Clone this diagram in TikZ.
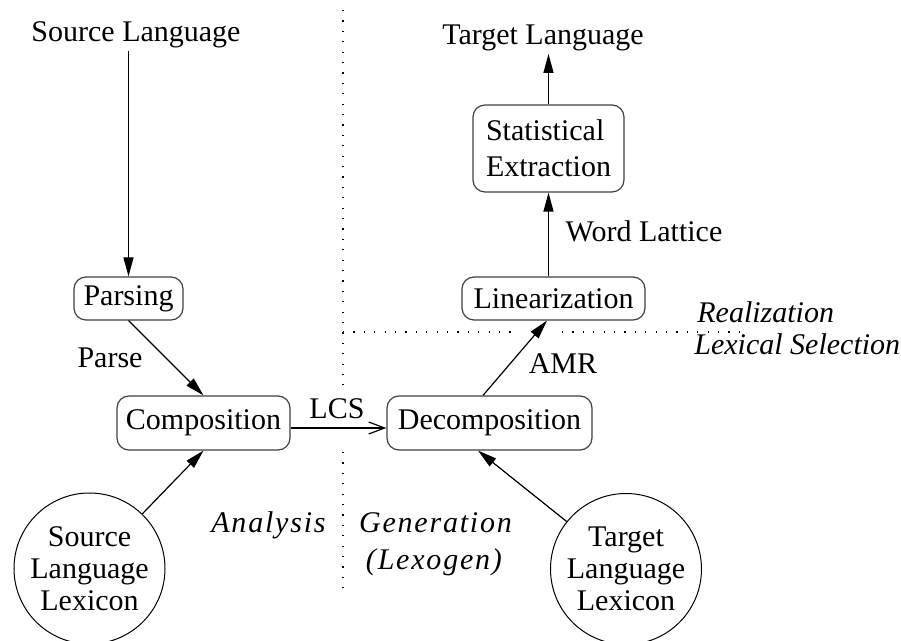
\documentclass[tikz,border=0pt]{standalone}
\usepackage{fontspec}
\setmainfont{Liberation Serif}
\newfontfamily\spacedital[LetterSpace=6]{Liberation Serif Italic}
\usetikzlibrary{arrows.meta,calc}
\begin{document}
\begin{tikzpicture}[x=0.5pt,y=-0.5pt,
  every node/.style={inner sep=0pt, font=\fontsize{15}{16}\selectfont},
  stage/.style={draw=black!75, line width=0.6pt, rounded corners=6pt, align=center},
  lexicon/.style={draw, circle, line width=0.5pt, minimum size=75.5pt, align=center},
  txt/.style={anchor=base, inner sep=1pt},
  region/.style={anchor=base, inner sep=1pt, font=\fontsize{15}{16}\selectfont\itshape},
  wideregion/.style={anchor=base, inner sep=1pt, font=\spacedital\fontsize{15}{16}\selectfont},
  flow/.style={line width=0.6pt, -{Triangle[length=9.5pt,width=5pt]}},
  openflow/.style={line width=0.6pt, -{Straight Barb[length=8pt,width=6pt]}},
  divider/.style={line width=0.7pt, dash pattern=on 0.6pt off 4.6pt}
]
\useasboundingbox (0,0) rectangle (901,641);

% processing stages
\node[stage, minimum width=54.5pt, minimum height=21.5pt] (parsing) at (128.5,298.5) {Parsing};
\node[stage, minimum width=86.5pt, minimum height=27pt] (comp) at (203.5,423) {Composition};
\node[stage, minimum width=102.5pt, minimum height=27pt] (decomp) at (489.5,423) {Decomposition};
\node[stage, minimum width=91.5pt, minimum height=21.5pt] (linear) at (553.5,298.5) {Linearization};
\node[stage, minimum width=75.5pt, minimum height=43.5pt, align=left,
      font=\fontsize{15}{18}\selectfont] (stat) at (548.5,148.5) {Statistical\\Extraction};

% input / output
\node[txt] (srclang) at (136,42) {Source Language};
\node[txt] (tgtlang) at (543,45) {Target Language};

% lexicons
\node[lexicon] (slex) at (89.5,568.5) {Source\\Language\\Lexicon};
\node[lexicon] (tlex) at (626,569) {Target\\Language\\Lexicon};

% edge labels
\node[txt] (parselbl) at (110,368) {Parse};
\node[txt] (lcslbl) at (337,419) {LCS};
\node[txt] (amrlbl) at (563,374) {AMR};
\node[txt] (wllbl) at (644,242) {Word Lattice};

% region labels
\node[wideregion] (analysis) at (268.5,533) {Analysis};
\node[wideregion] (gen) at (435.5,533) {Generation};
\node[wideregion] (lexogen) at (434,570) {(Lexogen)};
\node[region, anchor=base west] (realiz) at (695,323) {Realization};
\node[region, anchor=base west] (lexsel) at (692,355) {Lexical Selection};

% region dividers
\draw[divider] (343,10) -- (343,385);
\draw[divider] (343,452) -- (343,593);
\draw[divider] (343,332) -- (515,332);
\draw[divider] (562,332) -- (740,332);

% connectors
\draw[flow] (srclang.south -| parsing.north) -- (parsing.north);
\draw[flow] (parsing.south) -- (comp.north);
\draw[flow] (slex) -- (comp.south);
\draw[openflow] ($(comp.east)+(0,5)$) -- ($(decomp.west)+(0,5)$);
\draw[flow] (tlex) -- ($(decomp.south)+(-11.5,0)$);
\draw[flow] ($(decomp.north)+(-6.5,0)$) -- ($(linear.south)+(-6.5,0)$);
\draw[flow] (stat.south |- linear.north) -- (stat.south);
\draw[flow] (stat.north) -- (stat.north |- tgtlang.south);
\end{tikzpicture}
\end{document}
